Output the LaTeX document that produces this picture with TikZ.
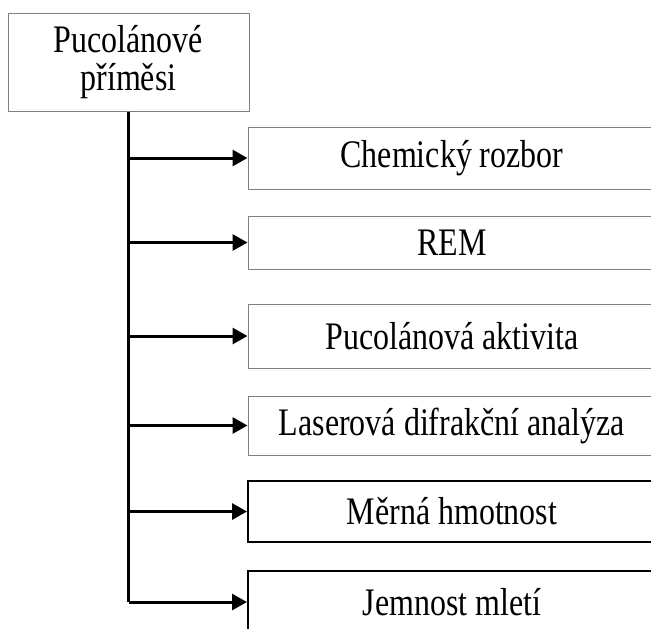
\documentclass[tikz,border=0pt]{standalone}
\usepackage{fontspec}
\setmainfont[FakeStretch=0.82]{Liberation Serif}
\usetikzlibrary{arrows.meta}
\begin{document}
\begin{tikzpicture}[x=0.5pt,y=-0.5pt,every node/.style={font=\fontsize{19.5}{19}\selectfont}]
% Pucolanove primesi: tests branching from one trunk
\clip (0,0) rectangle (651,628);
\node[draw=gray,line width=0.5pt,align=center,minimum width=120.5pt,minimum height=49pt,inner sep=0pt] (pp) at (128.5,62) {Pucolánové\\příměsi};
\foreach \i/\y/\h/\c/\w/\t in {1/158/31/gray/0.5/Chemický rozbor,2/242.5/26.5/gray/0.5/REM,3/336/32/gray/0.5/Pucolánová aktivita,4/425.5/29.5/gray/0.5/Laserová difrakční analýza,5/511.5/30.5/black/1/Měrná hmotnost,6/602/31/black/1/Jemnost mletí} {\node[draw=\c,line width=\w pt,minimum width=204pt,minimum height=\h pt,inner sep=0pt] (b\i) at (452,\y) {\t};}
\draw[line width=1.5pt] (pp.south) -- (pp.south |- b6.west);
\foreach \i in {1,...,6} {\draw[line width=1.5pt,-{Triangle[length=7.5pt,width=8pt]}] (pp.south |- b\i.west) -- (b\i.west);}
\end{tikzpicture}
\end{document}
